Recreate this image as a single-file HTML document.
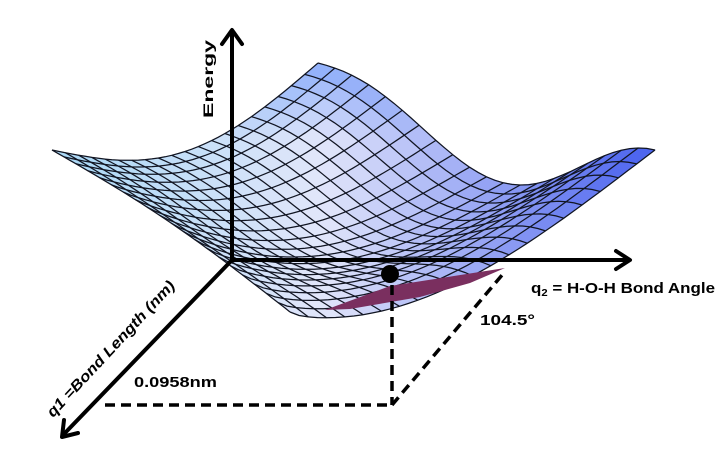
<!DOCTYPE html>
<html><head><meta charset="utf-8"><style>
html,body{margin:0;padding:0;background:#fff;width:721px;height:459px;overflow:hidden}
svg{display:block}
</style></head><body>
<svg id="s" width="721" height="459" xmlns="http://www.w3.org/2000/svg" font-family="Liberation Sans, sans-serif">
<g id="mesh"></g>
<polygon points="325,310 390,286 505,268 470,283 420,297 350,309" fill="#7a2f5f"/>
<g stroke="#000" stroke-width="4" fill="none" stroke-linecap="round" stroke-linejoin="round">
<line x1="232" y1="260" x2="232" y2="32"/>
<polyline points="222,44 232,30 242,44"/>
<line x1="232" y1="260" x2="628" y2="260"/>
<polyline points="616,251 630,260 616,269"/>
<line x1="232" y1="260" x2="64" y2="434"/>
<polyline points="64,420 62,437 78,433"/>
</g>
<g stroke="#000" stroke-width="3.5" stroke-dasharray="10,6" fill="none">
<line x1="392" y1="285" x2="392" y2="405"/>
<line x1="105" y1="405" x2="392" y2="405"/>
<line x1="392" y1="405" x2="503" y2="274"/>
</g>
<circle cx="390" cy="274" r="9" fill="#000"/>
<text x="0" y="0" transform="translate(213,118) rotate(-90)" font-weight="bold" font-size="14" textLength="78" lengthAdjust="spacingAndGlyphs">Energy</text>
<text x="531" y="293" font-weight="bold" font-size="15" textLength="184" lengthAdjust="spacingAndGlyphs">q<tspan font-size="10" dy="3">2</tspan><tspan dy="-3"> = H-O-H Bond Angle</tspan></text>
<text x="480" y="325" font-weight="bold" font-size="15" textLength="55" lengthAdjust="spacingAndGlyphs">104.5°</text>
<text x="134" y="387" font-weight="bold" font-size="15" textLength="83" lengthAdjust="spacingAndGlyphs">0.0958nm</text>
<text x="0" y="0" transform="translate(53,418) rotate(-47)" font-weight="bold" font-style="italic" font-size="15" textLength="180" lengthAdjust="spacingAndGlyphs">q1 =Bond Length (nm)</text>
</svg>
<script>
(function(){
var A=[52,150],B=[318,63],C=[655,150],D=[290,312];
function e1(u){return 45*Math.sin(Math.PI*u);}
function e2(v){var s=Math.sin(Math.PI*Math.pow(v,1.15));return 72*s*s;}
function e3(u){return 46*Math.sin(Math.PI*Math.pow(u,0.8));}
function e4(v){return -8*Math.sin(Math.PI*v);}
function P(u,v){
 var x=A[0]*(1-u)*(1-v)+B[0]*u*(1-v)+D[0]*(1-u)*v+C[0]*u*v;
 var y=A[1]*(1-u)*(1-v)+B[1]*u*(1-v)+D[1]*(1-u)*v+C[1]*u*v;
 y+=(1-v)*e1(u)+v*e3(u)+(1-u)*e4(v)+u*e2(v);
 return [x,y];
}
function col(x,y){
 var t=(x-52)/603;
 var c1=[168,216,246],c2=[226,230,250],c3=[70,95,238];
 var c;
 if(t<0.45){var k=t/0.45;c=[0,1,2].map(function(i){return c1[i]+(c2[i]-c1[i])*k;});}
 else{var k=Math.pow((t-0.45)/0.55,1.0);c=[0,1,2].map(function(i){return c2[i]+(c3[i]-c2[i])*k;});}
 var top=Math.max(0,(140-y)/80);
 c=[c[0]-90*top,c[1]-60*top,c[2]];
 return 'rgb('+c.map(function(v){return Math.round(Math.max(0,Math.min(255,v)));}).join(',')+')';
}
var N=20,g=document.getElementById('mesh'),h='';
for(var i=0;i<N;i++)for(var j=0;j<N;j++){
 var a=P(i/N,j/N),b=P((i+1)/N,j/N),c=P((i+1)/N,(j+1)/N),d=P(i/N,(j+1)/N);
 var cx=(a[0]+b[0]+c[0]+d[0])/4,cy=(a[1]+b[1]+c[1]+d[1])/4;
 h+='<polygon points="'+[a,b,c,d].map(function(p){return p[0].toFixed(1)+','+p[1].toFixed(1);}).join(' ')+'" fill="'+col(cx,cy)+'" stroke="'+col(cx,cy)+'" stroke-width="0.6"/>';
}
for(var i=0;i<=N;i++){
 var p1='',p2='';
 for(var k=0;k<=40;k++){var q=P(i/N,k/40);p1+=(k?'L':'M')+q[0].toFixed(1)+','+q[1].toFixed(1);
  var r=P(k/40,i/N);p2+=(k?'L':'M')+r[0].toFixed(1)+','+r[1].toFixed(1);}
 h+='<path d="'+p1+'" fill="none" stroke="#111522" stroke-width="1.25"/>';
 h+='<path d="'+p2+'" fill="none" stroke="#111522" stroke-width="1.25"/>';
}
g.innerHTML=h;
})();
</script>
</body></html>
